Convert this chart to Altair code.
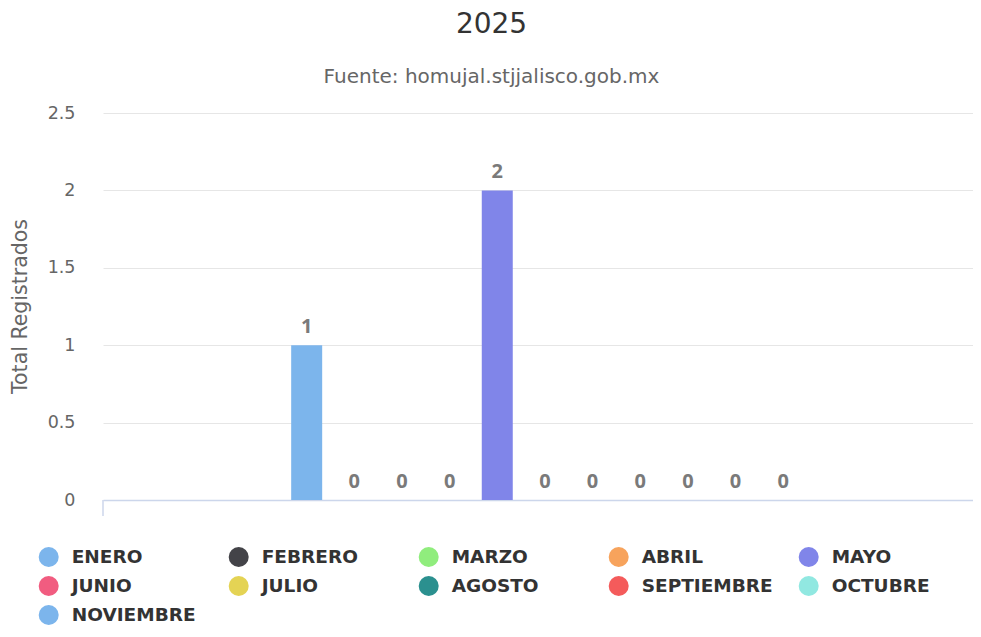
import altair as alt
import pandas as pd

months = ["ENERO", "FEBRERO", "MARZO", "ABRIL", "MAYO", "JUNIO", "JULIO",
          "AGOSTO", "SEPTIEMBRE", "OCTUBRE", "NOVIEMBRE"]
values = [1, 0, 0, 0, 2, 0, 0, 0, 0, 0, 0]
colors = ["#7cb5ec", "#434348", "#90ed7d", "#f7a35c", "#8085e9", "#f15c80",
          "#e4d354", "#2b908f", "#f45b5b", "#91e8e1", "#7cb5ec"]
y_ticks = [0, 0.5, 1, 1.5, 2, 2.5]

df = pd.DataFrame({"mes": months, "total": values, "pos": list(range(len(months)))})

X_LO, X_HI = -4.17, 13.88

x = alt.X("pos:Q", scale=alt.Scale(domain=[X_LO, X_HI], nice=False, zero=False),
          axis=alt.Axis(labels=False, title=None, grid=False, ticks=False,
                        domainColor="#ccd6eb", domainWidth=1.5))
y = alt.Y("total:Q", scale=alt.Scale(domain=[0, 2.5], nice=False),
          axis=alt.Axis(values=y_ticks, format="~g", title="Total Registrados",
                        grid=True, gridColor="#e6e6e6", gridWidth=1,
                        domain=False, ticks=False, tickSize=0, labelPadding=28,
                        labelFont="DejaVu Sans", labelFontSize=17.5, labelColor="#666666",
                        titleFont="DejaVu Sans", titleFontSize=20.5, titleColor="#666666",
                        titleFontWeight="normal", titleX=-83, titleY=193,
                        titleAngle=270, titleBaseline="middle", titleAlign="center"))

base = alt.Chart(df)

bars = base.mark_bar(size=31).encode(
    x=x, y=y,
    color=alt.Color("mes:N", sort=months,
                    scale=alt.Scale(domain=months, range=colors),
                    legend=alt.Legend(title=None, orient="none", legendX=-64.3, legendY=434,
                                      direction="horizontal",
                                      columns=5, symbolType="circle", symbolSize=400,
                                      symbolStrokeWidth=0, symbolOpacity=1,
                                      labelFont="DejaVu Sans", labelFontWeight="bold",
                                      labelFontSize=18.5, labelColor="#333333",
                                      labelOffset=13, columnPadding=25, rowPadding=9,
                                      gridAlign="all", padding=0, labelLimit=300)),
)

labels = base.mark_text(dy=-12, baseline="alphabetic", font="Noto Sans",
                        fontWeight="bold", fontSize=20, color="#7a7a7a").encode(
    x=x, y=y, text=alt.Text("total:Q")
)

tick = alt.Chart(pd.DataFrame({"t": [0]})).mark_rule(
    color="#ccd6eb", strokeWidth=1.5
).encode(x=alt.value(0), y=alt.value(387), y2=alt.value(403))

chart = alt.layer(bars, labels, tick).properties(
    width=870, height=387,
    title=alt.TitleParams("2025", subtitle="Fuente: homujal.stjjalisco.gob.mx",
                          font="DejaVu Sans", fontSize=28, fontWeight="normal",
                          color="#333333", subtitleFont="DejaVu Sans",
                          subtitleFontSize=20, subtitleColor="#666666",
                          subtitlePadding=28, offset=17.5, anchor="middle",
                          frame="bounds"),
    autosize=alt.AutoSizeParams(type="none"),
    padding={"left": 95, "top": 105, "right": 0, "bottom": 125},
).configure(font="DejaVu Sans", view=alt.ViewConfig(stroke=None))

chart.save("out.html", embed_options={"renderer": "svg", "actions": False})
